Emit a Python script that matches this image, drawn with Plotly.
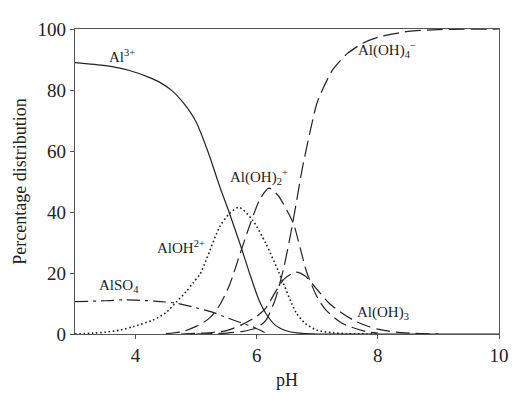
import plotly.graph_objects as go

# ---- data ----
ph_al3 = [3.0, 3.5, 3.9, 4.2, 4.4, 4.6, 4.8, 5.0, 5.2, 5.39, 5.55, 5.74, 5.88, 6.04, 6.15, 6.3, 6.5, 6.75, 7.0, 8.0, 10.0]
al3 = [89.0, 88.0, 86.4, 84.3, 82.5, 79.8, 75.5, 69.5, 59.5, 48.3, 39.6, 28.6, 20.0, 11.0, 6.8, 3.0, 1.0, 0.2, 0.0, 0.0, 0.0]

ph_aloh = [3.0, 3.3, 3.5, 3.75, 3.96, 4.29, 4.5, 4.68, 4.84, 4.95, 5.06, 5.17, 5.39, 5.55, 5.71, 5.93, 6.15, 6.37, 6.65, 6.8, 7.0, 7.25, 7.5, 8.0]
aloh = [0.0, 0.3, 0.6, 1.3, 2.4, 4.6, 7.0, 10.6, 14.0, 16.8, 19.5, 24.5, 35.2, 39.5, 41.5, 37.4, 29.7, 20.0, 7.0, 3.5, 1.2, 0.4, 0.1, 0.0]

ph_aloh2 = [4.5, 4.78, 5.0, 5.1, 5.25, 5.39, 5.55, 5.72, 5.9, 6.05, 6.2, 6.35, 6.5, 6.61, 6.72, 6.83, 7.0, 7.14, 7.4, 7.8, 8.0]
aloh2 = [0.1, 0.8, 2.5, 3.5, 5.8, 9.5, 16.0, 26.0, 36.5, 44.0, 47.8, 45.5, 40.5, 36.0, 28.0, 20.0, 12.0, 7.9, 3.6, 0.8, 0.3]

ph_aloh3 = [4.75, 5.0, 5.25, 5.5, 5.75, 6.0, 6.15, 6.3, 6.45, 6.65, 6.8, 7.0, 7.2, 7.4, 7.6, 7.8, 8.0, 8.3, 8.6, 9.0]
aloh3 = [0.0, 0.2, 0.5, 1.1, 3.0, 5.8, 8.5, 13.5, 18.0, 20.3, 19.0, 14.5, 10.0, 7.0, 4.5, 2.8, 1.6, 0.6, 0.2, 0.0]

ph_aloh4 = [5.0, 5.5, 5.75, 6.0, 6.15, 6.3, 6.45, 6.6, 6.75, 6.9, 7.0, 7.25, 7.5, 7.75, 8.0, 8.5, 9.0, 10.0]
aloh4 = [0.0, 0.3, 0.8, 2.0, 4.5, 11.0, 22.0, 37.0, 54.0, 68.0, 76.0, 86.5, 92.0, 95.3, 97.3, 99.2, 99.8, 100.0]

ph_also4 = [3.0, 3.5, 3.8, 4.0, 4.3, 4.68, 5.0, 5.28, 5.5, 5.75, 5.93, 6.05, 6.15]
also4 = [10.6, 10.9, 11.2, 11.1, 10.8, 10.1, 8.6, 7.1, 5.4, 3.6, 2.4, 1.3, 0.3]

label_texts = ["Al<sup>3+</sup>", "Al(OH)<sub>4</sub><sup>\u2212</sup>", "Al(OH)<sub>2</sub><sup>+</sup>",
               "AlOH<sup>2+</sup>", "AlSO<sub>4</sub>", "Al(OH)<sub>3</sub>"]
label_x = [3.78, 8.15, 6.04, 4.75, 3.73, 8.09]
label_y = [91.0, 93.0, 51.5, 28.6, 15.6, 7.0]

x_ticks = [4, 6, 8, 10]
y_ticks = [0, 20, 40, 60, 80, 100]

FONT = "Liberation Serif, Times New Roman, serif"
LC = "#222222"

fig = go.Figure()

def add(x, y, dash, width=1.2):
    fig.add_trace(go.Scatter(x=x, y=y, mode="lines",
                             line=dict(color=LC, width=width, dash=dash, shape="spline", smoothing=0.7),
                             showlegend=False, hoverinfo="skip"))

add(ph_al3, al3, "solid")
add(ph_aloh, aloh, "1.6px,2.6px", 1.6)
add(ph_aloh2, aloh2, "14px,6px")
add(ph_aloh3, aloh3, "14px,6px")
add(ph_aloh4, aloh4, "16px,6px")
add(ph_also4, also4, "13px,5px,3px,5px")

for t, x, y in zip(label_texts, label_x, label_y):
    fig.add_annotation(x=x, y=y, text=t, showarrow=False, xanchor="center", yanchor="middle",
                       font=dict(family=FONT, size=15, color="#222"))

axis_common = dict(showgrid=False, zeroline=False, showline=True, linecolor="#555", linewidth=1.3,
                   mirror=True, ticks="outside", ticklen=4, tickcolor="#555", automargin=False,
                   tickfont=dict(family=FONT, size=19, color="#222"))

fig.update_xaxes(range=[3, 10], tickvals=x_ticks,
                 title=dict(text="pH", font=dict(family=FONT, size=18, color="#222"), standoff=8),
                 **axis_common)
fig.update_yaxes(range=[0, 100], tickvals=y_ticks,
                 title=dict(text="Percentage distribution", font=dict(family=FONT, size=18, color="#222"), standoff=6),
                 **axis_common)

fig.update_layout(width=527, height=396, margin=dict(l=75, r=28, t=29, b=62),
                  plot_bgcolor="white", paper_bgcolor="white")

fig.write_html("out.html")
